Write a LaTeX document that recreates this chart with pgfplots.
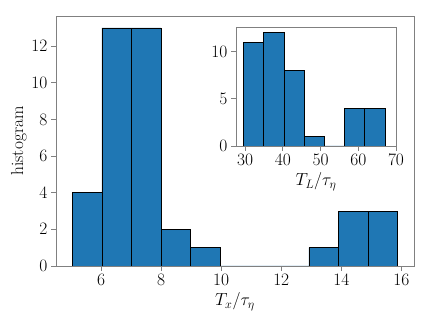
\documentclass[border=0pt]{standalone}
\usepackage{fix-cm}
\usepackage{fontspec}
\usepackage{pgfplots}
\pgfplotsset{compat=1.18}
\definecolor{tabblue}{HTML}{1F77B4}
\definecolor{spine}{HTML}{808080}

\pgfplotsset{
  histstyle/.style={
    scale only axis,
    axis background/.style={fill=white},
    axis line style={spine, line width=0.9pt},
    tick style={spine, line width=0.9pt},
    tick align=outside,
    major tick length=5bp,
    xtick pos=left, ytick pos=left,
    ymin=0,
    tick label style={font=\fontsize{17.5}{21}\selectfont},
    label style={font=\fontsize{17.5}{21}\selectfont},
  },
  histbar/.style={ybar interval, fill=tabblue, draw=black, line width=0.6pt},
}

\begin{document}
\begin{tikzpicture}
\useasboundingbox (0,0) rectangle (430bp,324bp);

% main histogram
\begin{axis}[histstyle,
  at={(56bp,58bp)}, anchor=south west,
  width=358bp, height=250bp,
  xmin=4.5, xmax=16.42, ymax=13.65,
  xtick={6,8,...,16}, ytick={0,2,...,12},
  xlabel={$T_x/\tau_\eta$},
  ylabel={histogram},
  ylabel style={yshift=-2bp},
]
\addplot[histbar] coordinates {
  (5.04,4) (6.025,13) (7.01,13) (7.995,2) (8.98,1) (9.965,0)
  (10.95,0) (11.935,0) (12.92,1) (13.905,3) (14.89,3) (15.875,0)
};
\end{axis}

% inset
\begin{axis}[histstyle,
  at={(236bp,178bp)}, anchor=south west,
  width=160bp, height=119bp,
  xmin=27.6, xmax=70, ymax=12.6,
  xtick={30,40,...,70}, ytick={0,5,10},
  xlabel={$T_L/\tau_\eta$},
]
\addplot[histbar] coordinates {
  (29.56,11) (34.92,12) (40.28,8) (45.64,1) (51.0,0)
  (56.36,4) (61.72,4) (67.08,0)
};
\end{axis}
\end{tikzpicture}
\end{document}
